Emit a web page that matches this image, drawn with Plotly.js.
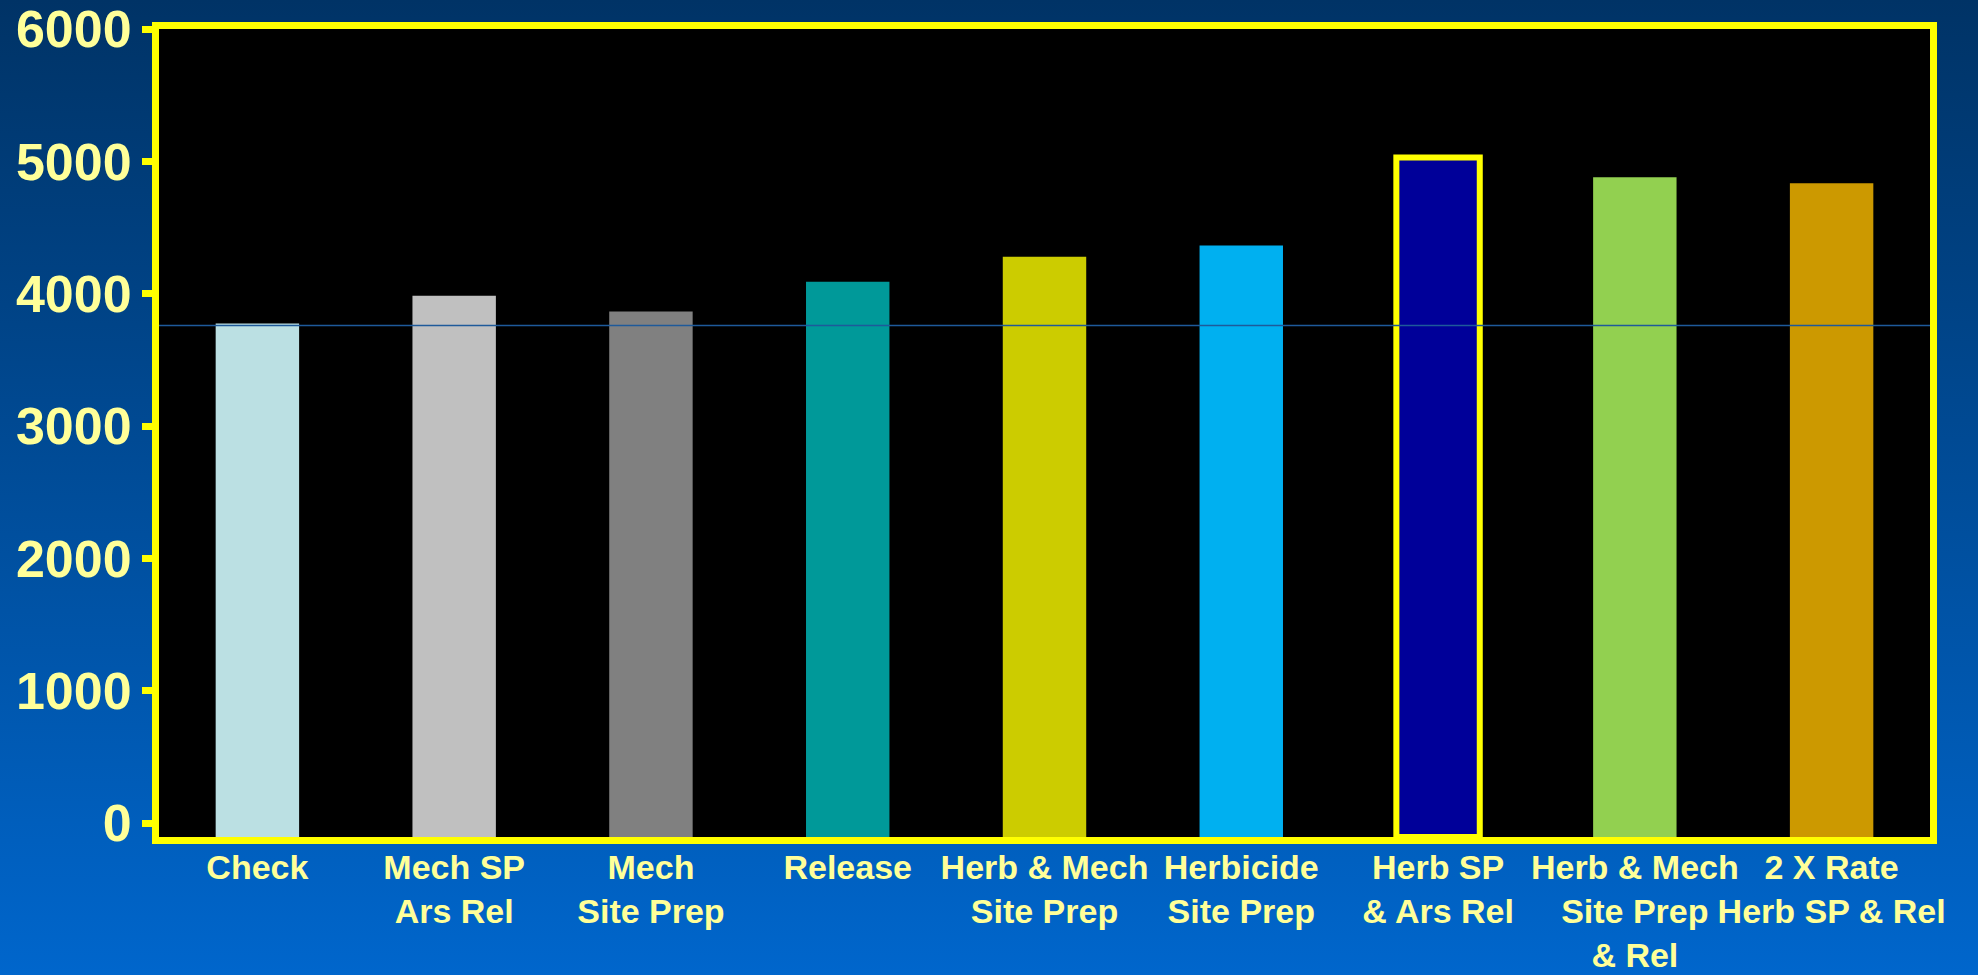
<!DOCTYPE html>
<html>
<head>
<meta charset="utf-8">
<script src="https://cdn.plot.ly/plotly-3.0.1.min.js"></script>
<style>
  html, body { margin: 0; padding: 0; width: 1978px; height: 975px; overflow: hidden; }
  body { background: linear-gradient(to bottom, #003366 0%, #004a94 45%, #0066cc 100%); }
  #chart { width: 1978px; height: 975px; }
</style>
</head>
<body>
<div id="chart"></div>
<script>
// ---- data ----
const categories = [
  "Check",
  "Mech SP<br>Ars Rel",
  "Mech<br>Site Prep",
  "Release",
  "Herb & Mech<br>Site Prep",
  "Herbicide<br>Site Prep",
  "Herb SP<br>& Ars Rel",
  "Herb & Mech<br>Site Prep<br>& Rel",
  "2 X Rate<br>Herb SP & Rel"
];
const values = [3775, 3985, 3865, 4090, 4280, 4365, 5030, 4880, 4835];
const referenceValue = 3760;
const yTickValues = [0, 1000, 2000, 3000, 4000, 5000, 6000];
const yTickLabels = ["0", "1000", "2000", "3000", "4000", "5000", "6000"];

// ---- styling ----
const barColors = ["#BBE0E3", "#C0C0C0", "#808080", "#009999", "#CCCC00",
                   "#00B0F0", "#000099", "#92D050", "#CC9900"];
const outlineWidths = [0, 0, 0, 0, 0, 0, 6, 0, 0];
const yMin = -105, yMax = 6000;

const trace = {
  type: "bar",
  x: categories,
  y: values.map(v => v - yMin),
  base: values.map(() => yMin),
  width: 0.424,
  marker: {
    color: barColors,
    line: { color: "#FFFF00", width: outlineWidths }
  },
  hoverinfo: "skip"
};

const layout = {
  width: 1978,
  height: 975,
  margin: { l: 159, r: 48, t: 29, b: 138, pad: 0 },
  paper_bgcolor: "rgba(0,0,0,0)",
  plot_bgcolor: "#000000",
  showlegend: false,
  font: { family: "Arial, 'Liberation Sans', sans-serif", color: "#FFFF99" },
  xaxis: {
    type: "category",
    showline: true, mirror: true, linecolor: "#FFFF00", linewidth: 7,
    showgrid: false, zeroline: false, ticks: "",
    tickfont: { size: 34, color: "#FFFF99", family: "Arial, 'Liberation Sans', sans-serif", weight: "bold" },
    tickangle: 0,
    ticklabelstandoff: -6,
    ticklabeloverflow: "allow"
  },
  yaxis: {
    range: [yMin, yMax],
    showline: true, mirror: true, linecolor: "#FFFF00", linewidth: 7,
    showgrid: false, zeroline: false,
    ticks: "outside", ticklen: 10, tickwidth: 7, tickcolor: "#FFFF00",
    tickvals: yTickValues, ticktext: yTickLabels,
    ticklabeloverflow: "allow",
    tickfont: { size: 52, color: "#FFFF99", family: "Arial, 'Liberation Sans', sans-serif", weight: "bold" }
  },
  shapes: [{
    type: "line", xref: "paper", x0: 0, x1: 1, yref: "y",
    y0: referenceValue, y1: referenceValue,
    line: { color: "#1E5A9A", width: 1.5 }, layer: "above"
  }]
};

Plotly.newPlot("chart", [trace], layout, { staticPlot: true, displayModeBar: false });
</script>
</body>
</html>
